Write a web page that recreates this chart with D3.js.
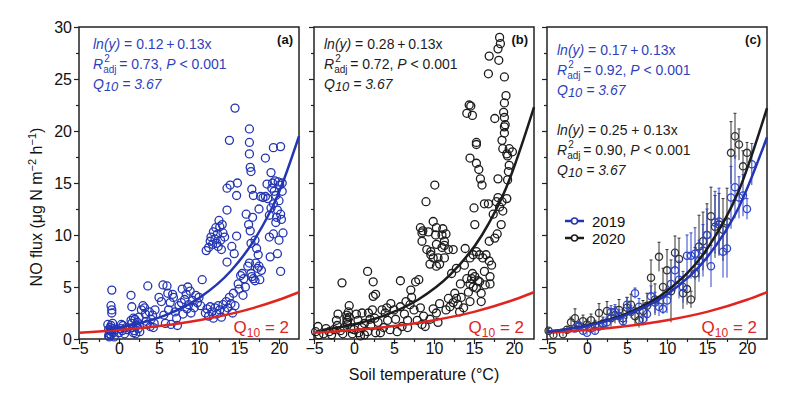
<!DOCTYPE html>
<html>
<head>
<meta charset="utf-8">
<script src="https://cdn.jsdelivr.net/npm/d3@7"></script>
<style>
  body { margin: 0; background: #fff; }
  text { font-family: "Liberation Sans", Arial, sans-serif; }
</style>
</head>
<body>
<svg id="chart" width="800" height="396"></svg>
<script>
// ---- data: [soil temperature, NO flux] ----
var pointsA = [
  [-1.3,0.3],[-1.2,0.5],[-1.0,0.4],[-0.9,0.7],[-1.3,0.9],[-1.1,1.1],[-0.8,1.0],[-1.4,1.4],[-0.7,0.6],[-1.0,1.3],
  [-0.6,0.2],[-1.2,0.2],[-0.9,2.5],[-0.9,2.8],[-1.0,3.2],[-0.9,4.7],[-0.5,0.9],[-0.8,1.5],[-1.1,0.8],
  [0,0.6],[0.2,1.0],[0.4,0.8],[0.5,1.3],[0.7,0.5],[0.9,1.1],[0.3,1.4],[1.0,0.9],
  [1.5,4.2],[1.6,3.1],[1.5,1.8],[1.6,1.5],[1.7,1.1],[1.8,0.6],[1.9,0.8],[2.0,1.9],[2.1,0.5],[1.8,2.0],[2.2,1.3],
  [2.3,1.6],[2.5,2.1],[2.4,1.0],[2.6,0.7],
  [2.8,2.8],[3.0,3.2],[3.2,3.0],[3.3,2.4],[3.4,1.7],[3.5,1.4],[3.6,5.1],[3.8,2.6],[3.9,1.2],[4.0,1.9],[4.2,2.3],
  [4.4,1.5],[4.5,2.8],[4.3,1.1],
  [5.0,4.0],[5.3,3.6],[5.5,5.2],[5.6,2.3],[5.8,1.5],[6.0,5.1],[6.1,4.4],[6.2,2.8],[6.4,3.5],[6.5,1.4],[6.7,4.3],
  [6.8,4.0],[7.0,2.6],[7.2,2.0],[7.3,1.3],[7.5,3.2],
  [7.8,3.5],[7.9,4.8],[8.0,2.4],[8.2,3.8],[8.4,4.3],[8.5,2.9],[8.6,5.0],[8.7,3.3],[8.9,4.6],[9.0,2.5],[9.2,3.7],
  [9.4,3.0],[9.6,4.2],[9.8,3.5],[10.0,4.0],[10.4,5.7],[10.2,3.2],
  [10.9,8.5],[11.2,8.8],[11.4,9.4],[11.5,9.8],[11.7,9.1],[11.8,10.3],[12.0,9.6],[12.1,10.7],[12.2,9.2],[12.3,10.1],
  [12.5,11.4],[12.6,10.8],[12.7,9.5],[12.8,8.6],[12.9,11.0],[13.0,10.2],[12.4,8.9],[13.2,9.8],
  [10.8,2.5],[11.0,2.9],[11.2,2.2],[11.4,3.1],[11.6,2.6],[11.8,2.0],[12.0,3.0],[12.2,2.4],[12.4,3.2],[12.6,2.8],
  [12.8,2.1],[13.0,3.3],[13.2,2.7],[13.4,3.6],[13.6,3.0],[13.8,4.0],[14.0,3.4],[14.2,2.5],[14.3,4.4],[14.5,3.2],
  [13.5,14.5],[13.8,19.1],[13.9,14.8],[14.5,22.2],[14.8,15.0],[14.7,13.8],[13.5,12.4],[13.5,7.4],[14.1,8.9],[14.4,8.2],
  [14.7,9.9],[14.9,5.3],[15.2,6.1],[15.0,4.8],[15.4,6.3],[15.6,5.8],[15.8,5.0],[15.5,4.2],[15.9,12.0],[16.1,7.0],
  [16.3,20.2],[16.3,18.9],[16.3,17.8],[16.4,16.5],[16.5,16.1],[16.6,14.4],[16.2,11.0],[16.4,10.4],[16.7,11.7],[16.8,13.8],
  [16.5,9.2],[16.3,7.3],[16.5,6.3],[16.6,6.0],[16.8,5.8],[17.0,5.6],[17.0,9.5],[17.2,8.7],[17.1,7.3],[17.3,6.8],
  [17.4,8.1],[17.5,7.0],[17.5,12.5],[17.7,13.7],[17.8,6.6],[17.6,5.7],
  [18.3,17.4],[18.0,13.6],[18.3,13.7],[18.6,13.5],[18.8,11.9],[19.0,16.0],[19.1,14.5],[19.2,15.0],[19.3,18.4],[19.3,13.0],
  [19.4,14.2],[19.5,15.2],[19.6,13.8],[19.7,11.7],[19.8,12.4],[19.9,15.1],[20.0,13.3],[20.1,14.8],[20.2,18.5],[20.2,12.0],
  [20.3,11.5],[20.4,14.2],[18.8,9.8],[18.9,7.9],[19.3,10.1],[19.6,11.2],[20.0,9.5],[20.2,6.5],[20.5,10.2],[18.5,14.9],
  [19.0,12.6],[20.4,15.0],[19.8,8.2]
];

var pointsB = [
  [18.2,29.0],[18.3,28.4],[18.0,27.9],[16.9,27.2],[18.1,26.8],[16.8,25.5],[18.8,25.2],[19.0,23.4],[18.8,22.7],[14.4,22.5],
  [14.6,22.4],[14.1,21.7],[14.8,21.5],[18.7,21.8],[17.6,21.2],[18.8,21.3],[18.9,20.6],[18.8,20.4],[18.8,19.8],[18.5,19.1],
  [15.3,18.9],[15.3,18.7],[18.6,18.3],[19.4,18.3],[19.8,18.0],[19.1,17.8],[19.2,17.6],[14.5,17.4],[15.3,16.9],[15.6,16.3],
  [19.4,16.7],[19.3,16.1],[18.0,15.4],[19.2,15.3],[15.8,15.4],[16.0,14.8],[10.1,14.8],[18.0,13.6],[19.1,13.5],[17.8,13.2],
  [16.3,13.0],[16.8,13.0],[18.5,13.2],[18.2,12.7],[15.0,12.6],[17.4,12.0],[18.6,12.3],[15.1,11.0],[9.0,13.2],[17.6,9.7],
  [17.9,10.1],[16.9,9.4],[18.4,11.0],
  [8.3,10.7],[8.5,10.2],[8.6,10.4],[9.3,10.3],[10.3,10.7],[10.2,10.0],[11.5,10.1],[11.3,9.4],[11.3,9.0],[9.9,11.3],
  [11.1,10.6],[11.0,10.0],[10.3,9.1],[9.1,8.6],[9.6,8.4],[9.6,8.1],[10.5,7.8],[10.3,7.0],[8.5,9.4],[11.0,8.8],
  [11.8,8.6],[12.4,8.6],[9.9,7.8],[9.5,7.2],[10.7,7.2],[11.3,7.8],[12.2,6.3],[12.8,6.8],[13.8,7.1],[14.5,7.8],
  [14.9,8.1],[15.3,8.4],[15.7,8.1],[16.1,7.8],[16.5,8.1],[16.9,7.5],[13.9,8.7],[14.1,5.8],[14.5,5.3],[14.7,5.8],
  [14.9,5.0],[15.3,4.9],[14.3,4.5],[15.7,5.5],[13.3,5.3],[17.0,6.0],[17.0,5.3],[17.2,7.1],[15.1,6.0],[15.5,5.6],
  [14.8,6.3],[16.3,6.5],[15.9,4.4],[16.4,5.2],
  [11.8,3.9],[12.4,3.5],[12.8,3.9],[13.0,3.3],[12.0,3.1],[14.5,3.6],[15.9,3.6],[10.7,3.4],[9.9,2.9],[10.3,2.5],
  [9.5,1.9],[8.7,2.2],[8.5,1.4],[8.9,1.2],[10.5,1.6],[13.4,4.0],[13.7,3.0],[11.5,2.8],[12.6,4.4],[13.2,2.6],
  [-4.5,1.2],[-4.8,0.7],[-4.4,0.4],[-3.8,0.5],[-3.1,0.7],[-2.5,0.9],[-2.1,1.3],[-2.2,1.8],[-2.0,2.4],[-1.5,5.4],
  [-0.6,3.2],[-0.8,1.8],[-0.6,2.1],[-0.8,1.4],[-0.4,1.0],[-0.9,2.3],[-0.9,1.6],[-0.9,2.0],[-0.7,2.6],[-1.2,1.1],
  [-1.4,0.5],[-1.7,0.8],[-0.2,0.5],[0.3,2.4],[0.5,1.8],[1.0,2.5],[1.3,1.5],[1.7,6.5],[1.8,2.5],[1.7,0.7],
  [2.4,5.5],[2.7,4.3],[2.4,4.1],[2.3,2.8],[2.6,2.0],[2.7,0.6],[3.3,0.6],[3.5,2.8],[3.9,2.5],[3.7,1.1],
  [4.6,3.4],[4.2,1.8],[5.0,2.8],[5.8,5.6],[5.8,3.1],[6.0,1.2],[5.4,0.7],[6.7,1.8],[7.1,4.7],[7.2,4.0],
  [7.7,5.5],[8.1,5.7],[7.5,2.8],[7.9,1.8],[6.7,1.1],[0.0,0.9],[0.6,0.6],[1.0,1.1],[-3.5,1.0],[-2.8,0.4],
  [0.8,0.3],[2.1,1.3],[3.0,1.6],[4.5,0.9],[5.2,1.9],[6.3,2.4],[7.0,3.3],[8.3,3.0],[4.1,3.0],[6.5,3.6],
  [2.0,1.9],[1.3,0.4]
];

// binned means [temperature, mean, sd]
var means2019 = [
  [-1.5,1.0,0.3],[-1.0,1.3,0.4],[-0.5,0.8,0.3],[0,0.6,0.2],[0.5,1.0,0.3],[1.0,0.8,0.3],[1.5,1.2,0.4],[2.0,1.4,0.5],
  [2.5,1.6,0.5],[3.0,2.6,0.6],[3.5,2.6,0.7],[4.0,2.2,0.6],[4.5,1.7,0.5],[5.0,3.3,0.7],[5.5,2.6,0.6],[6.0,4.4,0.5],
  [6.5,3.1,0.8],[7.0,1.9,0.6],[7.5,2.4,0.7],[8.0,4.1,1.0],[8.5,3.5,1.0],[9.0,3.1,0.9],[9.5,2.9,0.5],[10.0,3.7,1.2],
  [10.5,5.3,1.5],[11.0,6.6,2.0],[11.5,5.7,1.8],[12.0,5.0,1.5],[12.5,8.0,2.0],[13.0,8.0,2.2],[13.5,8.2,2.5],[14.0,7.5,2.0],
  [14.5,8.5,2.5],[15.0,10.0,2.5],[15.5,7.0,2.0],[16.0,11.2,3.0],[16.5,11.3,3.2],[17.0,8.4,2.5],[17.5,8.7,2.8],
  [18.0,13.6,3.0],[18.5,14.6,3.0],[19.0,13.6,2.0],[19.5,13.8,2.0],[20.0,12.5,1.0],[20.6,16.8,2.0]
];
var means2020 = [
  [-4.8,0.8,0.2],[-4.2,0.4,0.2],[-3.0,0.45,0.2],[-2.5,0.9,0.3],[-2.0,1.6,0.5],[-1.5,2.0,0.9],[-1.0,1.2,0.4],
  [-0.5,1.7,0.6],[0,1.4,0.5],[0.5,1.8,0.6],[1.0,1.3,0.5],[1.5,2.5,0.9],[2.0,1.5,0.6],[2.5,2.7,0.9],[3.0,2.0,0.8],
  [3.5,2.3,0.8],[4.0,2.8,1.0],[4.5,2.0,0.8],[5.0,3.0,1.0],[5.5,3.3,1.0],[6.0,2.2,0.8],[6.5,1.8,0.7],[7.0,2.7,1.0],
  [7.5,3.2,1.2],[8.0,5.9,1.7],[8.5,3.8,1.5],[9.0,7.9,1.4],[9.5,5.0,1.8],[10.0,6.6,2.0],[10.5,4.6,3.0],[11.0,8.3,1.6],
  [11.5,7.7,2.0],[12.0,4.4,1.5],[12.5,4.8,1.5],[13.0,3.8,0.8],[13.5,6.3,2.5],[14.0,8.9,3.0],[14.5,9.4,2.8],
  [15.0,10.0,3.0],[15.5,11.8,2.8],[16.0,10.8,3.0],[16.5,11.0,3.0],[17.0,10.5,3.0],[17.5,11.3,3.2],[18.0,17.9,3.0],
  [18.5,19.5,2.2],[19.0,18.7,1.5],[19.5,16.6,1.5],[20.0,17.9,1.0]
];

// fitted curves, sampled off the figure
var fitA = [[-1.5,0.9],[2,1.41],[6,2.35],[10,3.93],[14,6.56],[17,9.63],[20,14.1],[22.5,19.5]];
var fitB = [[-4,0.87],[0,1.42],[4,2.32],[8,3.78],[12,6.16],[16,10.0],[19,14.5],[22.5,22.3]];
var fitC2019 = [[-5,0.7],[0,1.28],[5,2.35],[10,4.29],[15,7.84],[19,12.7],[22.5,19.4]];
var fitC2020 = [[-5,0.7],[0,1.31],[5,2.46],[10,4.62],[15,8.66],[19,14.3],[22.5,22.2]];
var q10Line = [[-5,0.6],[0,0.87],[5,1.25],[10,1.81],[15,2.61],[20,3.77],[22.5,4.5]];

var xMajor = [-5, 0, 5, 10, 15, 20];
var xMinor = [-2.5, 2.5, 7.5, 12.5, 17.5];
var yMajor = [0, 5, 10, 15, 20, 25, 30];
var yMinor = [2.5, 7.5, 12.5, 17.5, 22.5, 27.5];

// ---- drawing ----
var blue = "#2335b3", blueText = "#2e3fbe", black = "#1c1c1c", red = "#e0241f";
var svg = d3.select("#chart");
svg.append("rect").attr("width", 800).attr("height", 396).attr("fill", "#fff");

var panelLefts = [79, 314, 547], panelW = 220;
var y = d3.scaleLinear().domain([0, 30]).range([339, 27]);
var fmt = d3.format("");

function drawPanel(left, showY) {
  var x = d3.scaleLinear().domain([-5, 22.5]).range([left, left + panelW]);
  var g = svg.append("g");
  var ax = g.append("g").attr("transform", "translate(0,339)")
    .call(d3.axisBottom(x).tickValues(xMajor).tickSize(5).tickPadding(-1));
  var ax2 = g.append("g").attr("transform", "translate(0,339)")
    .call(d3.axisBottom(x).tickValues(xMinor).tickSize(3).tickFormat(""));
  var ay = g.append("g").attr("transform", "translate(" + left + ",0)")
    .call(d3.axisLeft(y).tickValues(yMajor).tickSize(5).tickPadding(2)
      .tickFormat(showY ? fmt : ""));
  var ay2 = g.append("g").attr("transform", "translate(" + left + ",0)")
    .call(d3.axisLeft(y).tickValues(yMinor).tickSize(3).tickFormat(""));
  [ax, ax2, ay, ay2].forEach(function(a) {
    a.select(".domain").remove();
    a.selectAll("line").attr("stroke", "#222").attr("stroke-width", 1.2);
    a.selectAll("text").attr("fill", "#111").style("font-size", "16px")
      .style("font-family", '"Liberation Sans", Arial, sans-serif');
  });
  g.append("rect").attr("x", left).attr("y", 27).attr("width", panelW).attr("height", 312)
    .attr("fill", "none").attr("stroke", "#222").attr("stroke-width", 1.5);
  return {g: g, x: x};
}

function line(x) {
  return d3.line().x(function(d) { return x(d[0]); }).y(function(d) { return y(d[1]); })
    .curve(d3.curveMonotoneX);
}

function scatter(p, data, color) {
  p.g.append("g").selectAll("circle").data(data).enter().append("circle")
    .attr("cx", function(d) { return p.x(d[0]); })
    .attr("cy", function(d) { return y(d[1]); })
    .attr("r", 4).attr("fill", "none").attr("stroke", color).attr("stroke-width", 1.3);
}

function curve(p, data, color) {
  p.g.append("path").datum(data).attr("d", line(p.x))
    .attr("fill", "none").attr("stroke", color).attr("stroke-width", 2.5);
}

function q10Label(p) {
  var t = p.g.append("text").attr("x", p.x.range()[1] - 10).attr("y", 333)
    .attr("text-anchor", "end").attr("fill", red).style("font-size", "17px");
  t.append("tspan").text("Q");
  t.append("tspan").attr("dy", 4).style("font-size", "12px").text("10");
  t.append("tspan").attr("dy", -4).text(" = 2");
}

function panelTag(p, s) {
  p.g.append("text").attr("x", p.x.range()[1] - 6).attr("y", 44).attr("text-anchor", "end")
    .attr("fill", "#111").style("font-size", "13px").style("font-weight", "bold").text(s);
}

function equation(p, x0, yb, color, eq, r2, gap) {
  var fs = "14px";
  var t1 = p.g.append("text").attr("x", x0).attr("y", yb).attr("fill", color).style("font-size", fs);
  t1.append("tspan").style("font-style", "italic").text("ln(y)");
  t1.append("tspan").text(eq);

  var yb2 = yb + gap;
  var r = p.g.append("text").attr("x", x0).attr("y", yb2).attr("fill", color).style("font-size", fs)
    .style("font-style", "italic").text("R");
  var w = r.node().getComputedTextLength();
  p.g.append("text").attr("x", x0 + w + 1).attr("y", yb2 - 7).attr("fill", color)
    .style("font-size", "10px").text("2");
  p.g.append("text").attr("x", x0 + w).attr("y", yb2 + 4).attr("fill", color)
    .style("font-size", "10px").text("adj");
  var t2 = p.g.append("text").attr("x", x0 + w + 16).attr("y", yb2).attr("fill", color).style("font-size", fs);
  t2.append("tspan").text(" = " + r2 + ", ");
  t2.append("tspan").style("font-style", "italic").text("P");
  t2.append("tspan").text(" < 0.001");

  var t3 = p.g.append("text").attr("x", x0).attr("y", yb + 2 * gap).attr("fill", color)
    .style("font-size", fs).style("font-style", "italic");
  t3.append("tspan").text("Q");
  t3.append("tspan").attr("dy", 2).style("font-size", "13px").text("10");
  t3.append("tspan").attr("dy", -2).text(" = 3.67");
}

// panel a
var pa = drawPanel(panelLefts[0], true);
scatter(pa, pointsA, blue);
curve(pa, q10Line, red);
curve(pa, fitA, blue);
equation(pa, 93, 49, blueText, " = 0.12\u2009+\u20090.13x", "0.73", 20);
panelTag(pa, "(a)");
q10Label(pa);

// panel b
var pb = drawPanel(panelLefts[1], false);
scatter(pb, pointsB, black);
curve(pb, q10Line, red);
curve(pb, fitB, black);
equation(pb, 324, 49, black, " = 0.28\u2009+\u20090.13x", "0.72", 20);
panelTag(pb, "(b)");
q10Label(pb);

// panel c
var pc = drawPanel(panelLefts[2], false);
function meansLayer(p, data, color) {
  var gg = p.g.append("g");
  gg.selectAll("line.err").data(data).enter().append("line")
    .attr("x1", function(d) { return p.x(d[0]); }).attr("x2", function(d) { return p.x(d[0]); })
    .attr("y1", function(d) { return y(Math.max(0, d[1] - d[2])); })
    .attr("y2", function(d) { return y(d[1] + d[2]); })
    .attr("stroke", color).attr("stroke-width", 1);
  gg.selectAll("line.cap").data(data).enter().append("line")
    .attr("x1", function(d) { return p.x(d[0]) - 1.5; }).attr("x2", function(d) { return p.x(d[0]) + 1.5; })
    .attr("y1", function(d) { return y(d[1] + d[2]); }).attr("y2", function(d) { return y(d[1] + d[2]); })
    .attr("stroke", color).attr("stroke-width", 1);
  gg.selectAll("circle").data(data).enter().append("circle")
    .attr("cx", function(d) { return p.x(d[0]); }).attr("cy", function(d) { return y(d[1]); })
    .attr("r", 3.6).attr("fill", "none").attr("stroke", color).attr("stroke-width", 1.3);
}
meansLayer(pc, means2020, "#333");
meansLayer(pc, means2019, "#2f45c8");
curve(pc, q10Line, red);
curve(pc, fitC2020, black);
curve(pc, fitC2019, blue);
equation(pc, 557, 55, blueText, " = 0.17\u2009+\u20090.13x", "0.92", 20);
equation(pc, 557, 135, black, "  = 0.25 + 0.13x", "0.90", 20);
panelTag(pc, "(c)");
q10Label(pc);

// legend
var legend = [["2019", blue, 221], ["2020", black, 238]];
legend.forEach(function(l) {
  pc.g.append("line").attr("x1", 565).attr("x2", 584).attr("y1", l[2]).attr("y2", l[2])
    .attr("stroke", l[1]).attr("stroke-width", 2.5);
  pc.g.append("circle").attr("cx", 574.5).attr("cy", l[2]).attr("r", 3)
    .attr("fill", "#fff").attr("stroke", l[1]).attr("stroke-width", 1.5);
  pc.g.append("text").attr("x", 592).attr("y", l[2] + 5.5).attr("fill", "#111")
    .style("font-size", "15px").text(l[0]);
});

// axis titles
svg.append("text").attr("x", 424).attr("y", 380).attr("text-anchor", "middle")
  .attr("fill", "#111").style("font-size", "16px").text("Soil temperature (\u00b0C)");

var yt = svg.append("text").attr("transform", "translate(42,207) rotate(-90)")
  .attr("text-anchor", "middle").attr("fill", "#111").style("font-size", "16px");
yt.append("tspan").text("NO flux (\u03bcg N m");
yt.append("tspan").attr("dy", -6).style("font-size", "11px").text("\u22122");
yt.append("tspan").attr("dy", 6).text(" h");
yt.append("tspan").attr("dy", -6).style("font-size", "11px").text("\u22121");
yt.append("tspan").attr("dy", 6).text(")");
</script>
</body>
</html>
